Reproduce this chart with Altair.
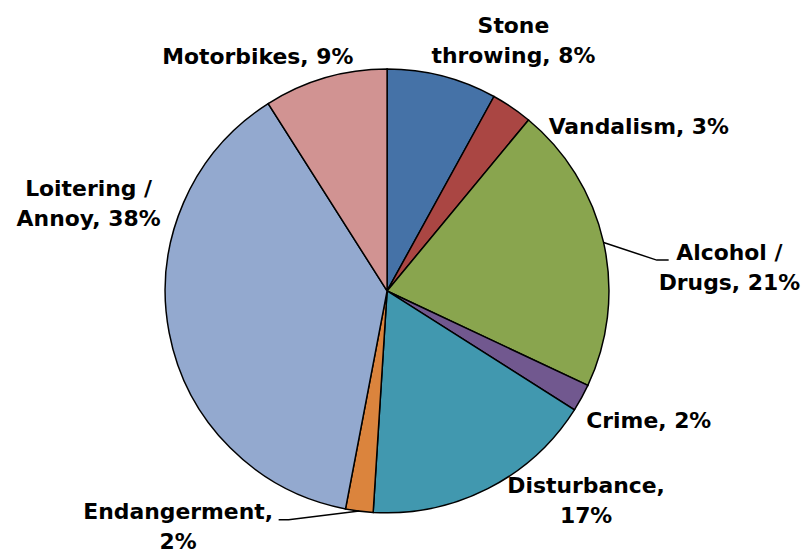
import altair as alt
import pandas as pd
import numpy as np

# ---- data ----
categories = ["Stone throwing", "Vandalism", "Alcohol / Drugs", "Crime",
              "Disturbance", "Endangerment", "Loitering / Annoy", "Motorbikes"]
values = [8, 3, 21, 2, 17, 2, 38, 9]
colors = ["#4572A7", "#AA4643", "#89A54E", "#71588F",
          "#4198AF", "#DB843D", "#93A9CF", "#D19392"]
label_formats = ["Stone\nthrowing, {}%", "Vandalism, {}%", "Alcohol /\nDrugs, {}%",
                 "Crime, {}%", "Disturbance,\n{}%", "Endangerment,\n{}%",
                 "Loitering /\nAnnoy, {}%", "Motorbikes, {}%"]

# ---- layout (view pixels) ----
CX, CY, R = 381, 283, 223
label_x = [508, 634, 725, 644, 581, 171, 81, 251]
label_y = [24, 125, 252, 421, 486, 512, 188, 55]
# leader lines: slice index -> bend and end points
leaders = {2: [(652, 252), (664, 252)], 5: [(282, 513), (272, 513)]}

pie_df = pd.DataFrame({"category": categories, "value": values,
                       "idx": list(range(len(values)))})

lab_df = pd.DataFrame({
    "text": [f.format(v) for f, v in zip(label_formats, values)],
    "lx": label_x, "ly": label_y})

total = float(sum(values))
cum = np.cumsum([0] + values)
rows = []
for i, pts in leaders.items():
    mid = (cum[i] + values[i] / 2.0) / total * 2 * np.pi
    sx = CX + R * np.sin(mid)
    sy = CY - R * np.cos(mid)
    rows.append({"line": categories[i], "pt": 0, "x": sx, "y": sy})
    for k, (px, py) in enumerate(pts, start=1):
        rows.append({"line": categories[i], "pt": k, "x": px, "y": py})
lead_df = pd.DataFrame(rows)

pie = alt.Chart(pie_df).mark_arc(outerRadius=R, stroke="black", strokeWidth=1.5).encode(
    theta=alt.Theta("value:Q", stack=True),
    color=alt.Color("category:N", scale=alt.Scale(domain=categories, range=colors), legend=None),
    order=alt.Order("idx:Q"),
    x=alt.value(CX),
    y=alt.value(CY),
)

lines = alt.Chart(lead_df).mark_line(color="black", strokeWidth=1.5).encode(
    x=alt.X("x:Q", scale=None, axis=None),
    y=alt.Y("y:Q", scale=None, axis=None),
    detail="line:N",
    order="pt:Q",
)

labels = alt.Chart(lab_df).mark_text(
    font="DejaVu Sans", fontSize=22, fontWeight="bold", align="center",
    baseline="alphabetic", lineBreak="\n", lineHeight=30, color="black"
).encode(
    x=alt.X("lx:Q", scale=None, axis=None),
    y=alt.Y("ly:Q", scale=None, axis=None),
    text="text:N",
)

chart = alt.layer(pie, lines, labels).properties(
    width=793, height=538, padding=0
).configure_view(stroke=None)

chart.save("out.html", embed_options={"renderer": "svg", "actions": False})
